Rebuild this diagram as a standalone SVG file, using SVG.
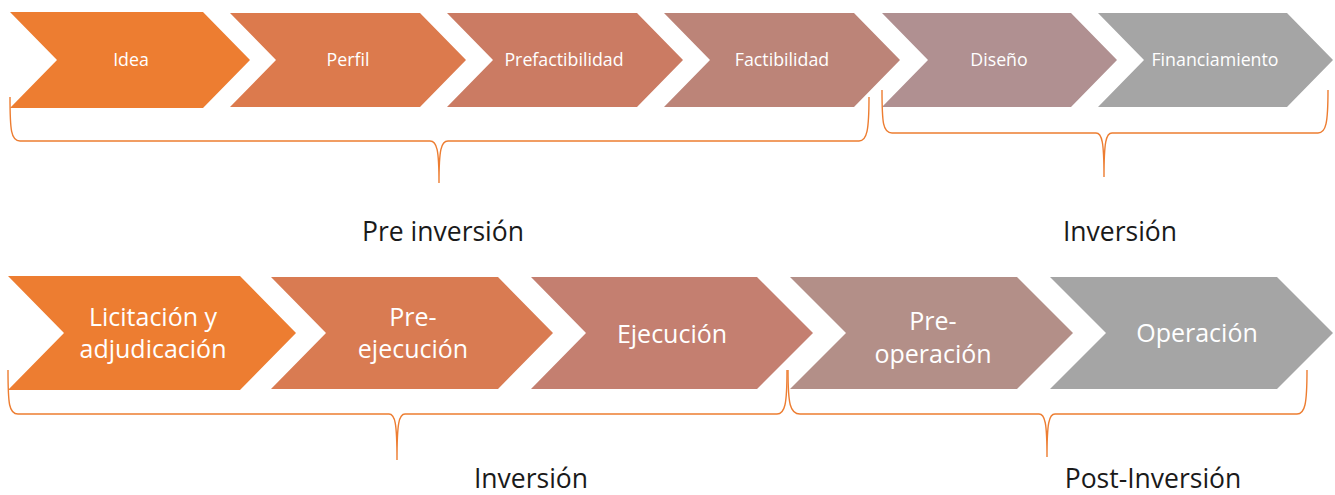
<svg xmlns="http://www.w3.org/2000/svg" width="1335" height="495" viewBox="0 0 1335 495">
<style>
.lbl{font-family:"Open Sans","Noto Sans",sans-serif;fill:#ffffff;text-anchor:middle}
.s{font-size:17.8px}
.b{font-size:25px}
.cap{font-family:"Open Sans","Noto Sans",sans-serif;fill:#1a1a1a;font-size:26.5px;text-anchor:middle}
.brace{fill:none;stroke:#ED7D31;stroke-width:1.4}
</style>
<rect width="1335" height="495" fill="#ffffff"/>
<g id="idea"><polygon points="10,12 203,12 250,60 203,108 10,108 57,60" fill="#ED7D31"/><text class="lbl s" x="131" y="66">Idea</text></g>
<g id="perfil"><polygon points="230,13 420,13 466,60 420,107 230,107 276,60" fill="#DC7A4D"/><text class="lbl s" x="348" y="66">Perfil</text></g>
<g id="prefactibilidad"><polygon points="447,13 637,13 683,60 637,107 447,107 493,60" fill="#CB7B63"/><text class="lbl s" x="564" y="66">Prefactibilidad</text></g>
<g id="factibilidad"><polygon points="664,13 854,13 900,60 854,107 664,107 710,60" fill="#BC8478"/><text class="lbl s" x="782" y="66">Factibilidad</text></g>
<g id="diseno"><polygon points="882,13 1071,13 1117,60 1071,107 882,107 928,60" fill="#B09091"/><text class="lbl s" x="999" y="66">Diseño</text></g>
<g id="financiamiento"><polygon points="1098,13 1287,13 1333,60 1287,107 1098,107 1144,60" fill="#A5A5A5"/><text class="lbl s" x="1215" y="66">Financiamiento</text></g>

<g id="licitacion"><polygon points="8,276 240,276 296,333 240,390 8,390 64,333" fill="#ED7D31"/><text class="lbl b" x="153" y="326">Licitación y</text><text class="lbl b" x="153" y="358">adjudicación</text></g>
<g id="preejecucion"><polygon points="271,277 498,277 553,333 498,389 271,389 326,333" fill="#D97B52"/><text class="lbl b" x="413" y="326">Pre-</text><text class="lbl b" x="413" y="358">ejecución</text></g>
<g id="ejecucion"><polygon points="531,277 757,277 813,333 757,389 531,389 586,333" fill="#C47F70"/><text class="lbl b" x="672" y="343">Ejecución</text></g>
<g id="preoperacion"><polygon points="790,277 1017,277 1073,333 1017,389 790,389 846,333" fill="#B38F88"/><text class="lbl b" x="933" y="330">Pre-</text><text class="lbl b" x="933" y="363">operación</text></g>
<g id="operacion"><polygon points="1050,277 1277,277 1333,333 1277,389 1050,389 1106,333" fill="#A5A5A5"/><text class="lbl b" x="1197" y="342">Operación</text></g>

<g id="connectors">
<path class="brace" d="M10,97 C10,130 11,141 20,141 L430,141 C437,141 439,150 439,183 C439,150 441,141 448,141 L859,141 C867,141 869,130 869,97"/>
<path class="brace" d="M882,90 C882,123 883,133 892,133 L1096,133 C1102,133 1104,142 1104,177 C1104,142 1106,133 1112,133 L1318,133 C1326,133 1328,123 1328,90"/>
<path class="brace" d="M8,370 C8,404 9,414 18,414 L389,414 C395,414 397,423 397,460 C397,423 399,414 405,414 L777,414 C785,414 787,404 787,370"/>
<path class="brace" d="M788,370 C788,404 790,414 800,414 L1039,414 C1045,414 1047,423 1047,457 C1047,423 1049,414 1055,414 L1297,414 C1305,414 1307,404 1307,370"/>
</g>

<g id="captions">
<text class="cap" x="443" y="241">Pre inversión</text>
<text class="cap" x="1120" y="241">Inversión</text>
<text class="cap" x="531" y="488">Inversión</text>
<text class="cap" x="1153" y="488">Post-Inversión</text>
</g>
</svg>
